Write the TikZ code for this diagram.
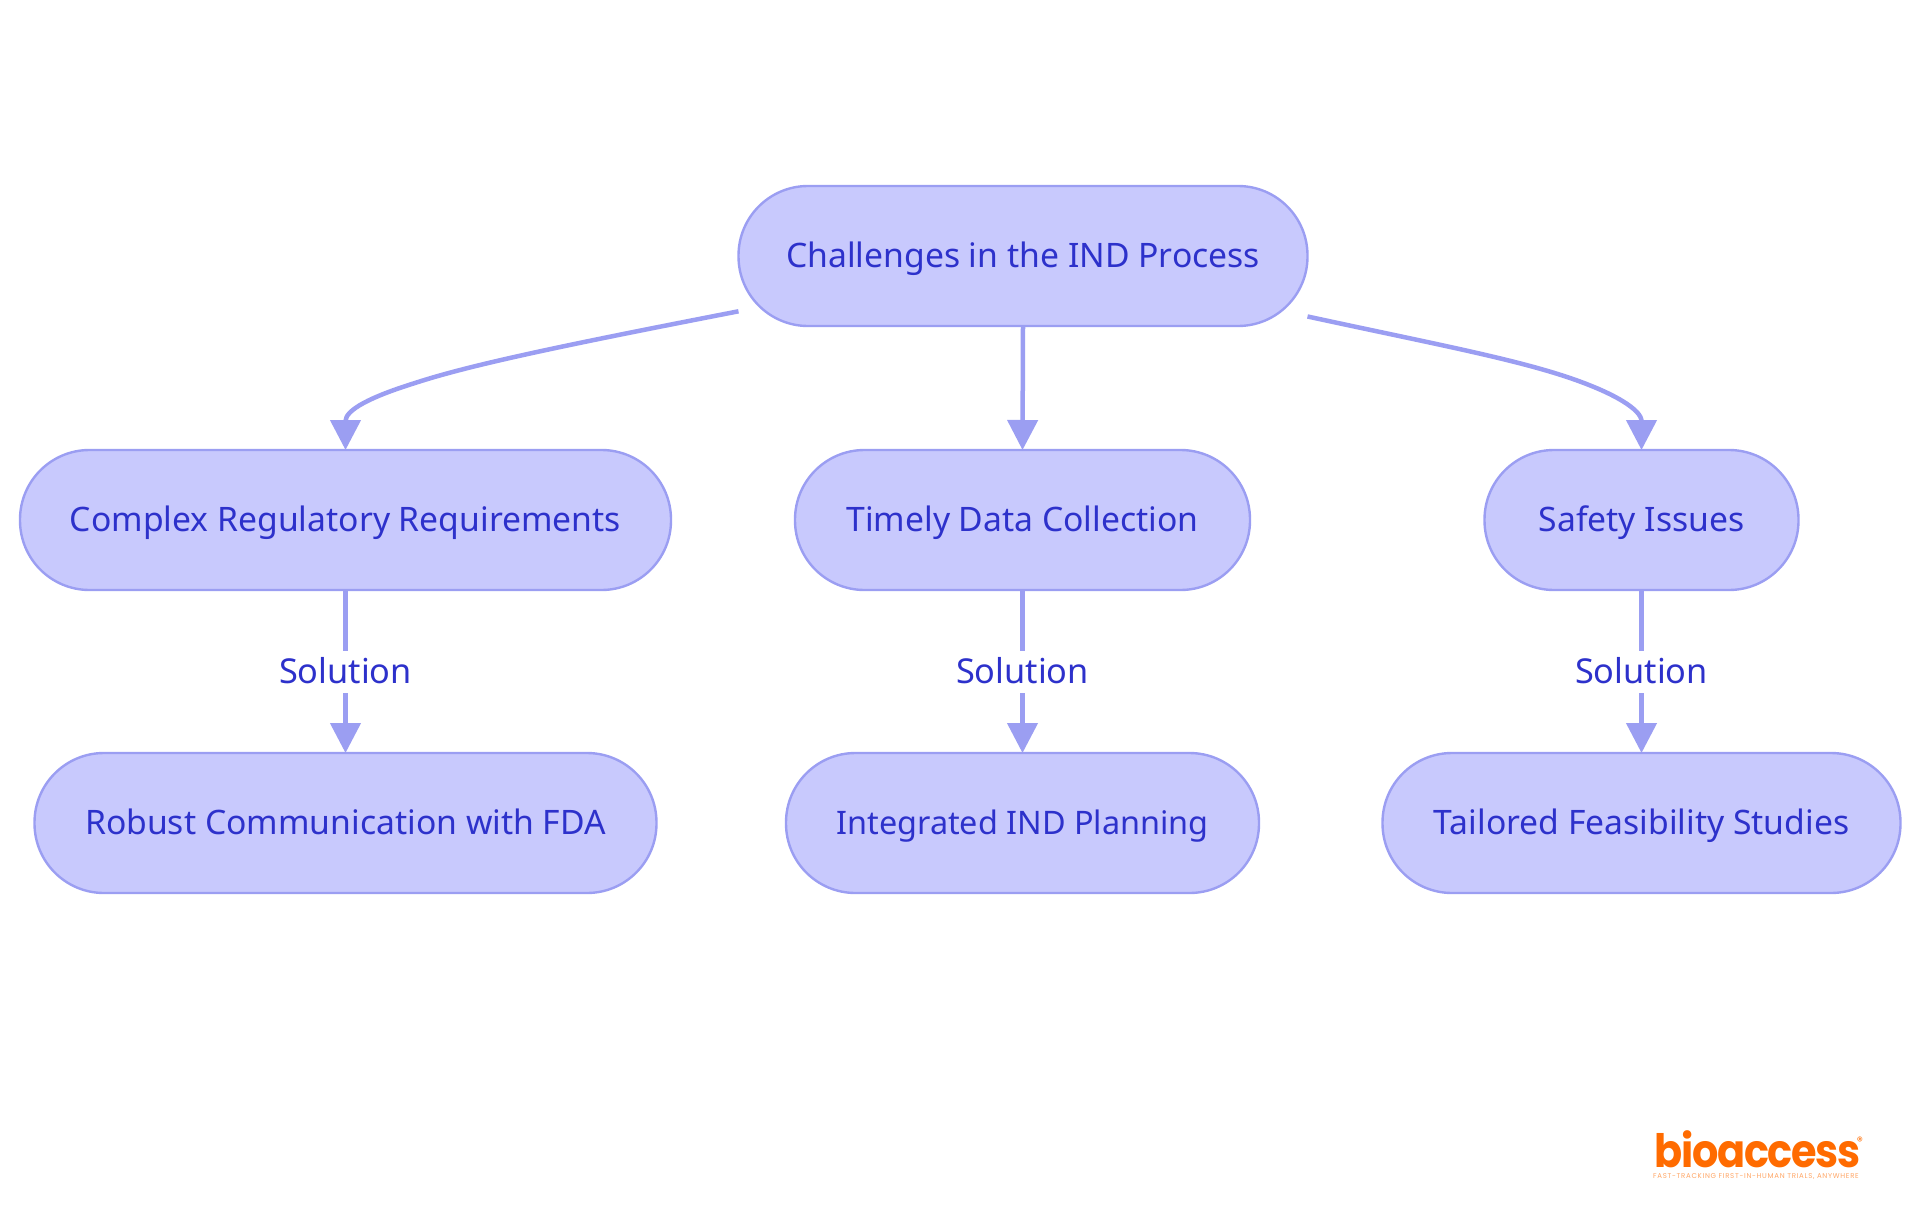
\documentclass[tikz,border=0pt]{standalone}
\usepackage{graphicx}
\usepackage{fontspec}
\setmainfont{Noto Sans}
\newfontfamily\logofont[LetterSpace=-3]{Poppins}
\newfontfamily\tagfont[LetterSpace=10]{Poppins}
\usetikzlibrary{arrows.meta}
\definecolor{nodefill}{HTML}{C8C9FD}
\definecolor{nodeline}{HTML}{9B9EF2}
\definecolor{nodetext}{HTML}{2D31CB}
\definecolor{logoorange}{HTML}{FF6B00}
\tikzset{
  x=1pt,y=-1pt,
  pill/.style={draw=nodeline,fill=nodefill,text=nodetext,line width=2.4pt,rounded corners=69.5pt,
    minimum height=140pt,inner sep=0pt,outer sep=0pt,text height=30pt,text depth=8pt,
    font=\fontsize{33.7}{40}\selectfont},
  link/.style={draw=nodeline,line width=4.5pt,-{Triangle[length=30pt,width=30pt]}},
  edgelabel/.style={fill=white,text=nodetext,inner xsep=3pt,inner ysep=3pt,text height=30pt,text depth=6pt,
    font=\fontsize{34.3}{40}\selectfont}
}
\begin{document}
\begin{tikzpicture}
\useasboundingbox (0,0) rectangle (1920,1215);
\node[pill,minimum width=569pt] (top) at (1023,256) {Challenges in the IND Process};
\node[pill,minimum width=651pt] (c) at (345.5,520) {Complex Regulatory Requirements};
\node[pill,minimum width=455pt] (t) at (1022.5,520) {Timely Data Collection};
\node[pill,minimum width=314pt] (s) at (1641.5,520) {Safety Issues};
\node[pill,minimum width=622pt] (r) at (345.5,823) {Robust Communication with FDA};
\node[pill,minimum width=473pt,font=\fontsize{32.4}{40}\selectfont] (i) at (1022.5,823) {Integrated IND Planning};
\node[pill,minimum width=518pt] (f) at (1641.5,823) {Tailored Feasibility Studies};
\draw[link] (top.191) .. controls (560,346) and (470,365) .. (415,383) .. controls (370,397) and (345.5,410) .. (c.north);
\draw[link] (top.south) -- (t.north);
\draw[link] (top.-12) .. controls (1430,343) and (1510,358) .. (1567,377) .. controls (1615,393) and (1641.5,410) .. (s.north);
\draw[link] (c.south) -- node[edgelabel] (l1) {Solution} (r.north);
\draw[link] (t.south) -- node[edgelabel] (l2) {Solution} (i.north);
\draw[link] (s.south) -- node[edgelabel] (l3) {Solution} (f.north);
\node[text=logoorange,inner sep=0pt,anchor=base west,font=\logofont\bfseries\fontsize{46}{50}\selectfont,text height=34pt,text depth=0pt] (logo) at (1654,1167) {\scalebox{0.9}[1]{bioaccess}};
\node[text=logoorange,inner sep=0pt,font=\logofont\fontsize{12}{14}\selectfont] (reg) at (1860,1141) {®};
\node[text=logoorange!60,inner sep=0pt,font=\tagfont\fontsize{7}{9}\selectfont,text height=5pt,text depth=0pt] (tag) at (1756,1176) {FAST-TRACKING FIRST-IN-HUMAN TRIALS, ANYWHERE};
\end{tikzpicture}
\end{document}
